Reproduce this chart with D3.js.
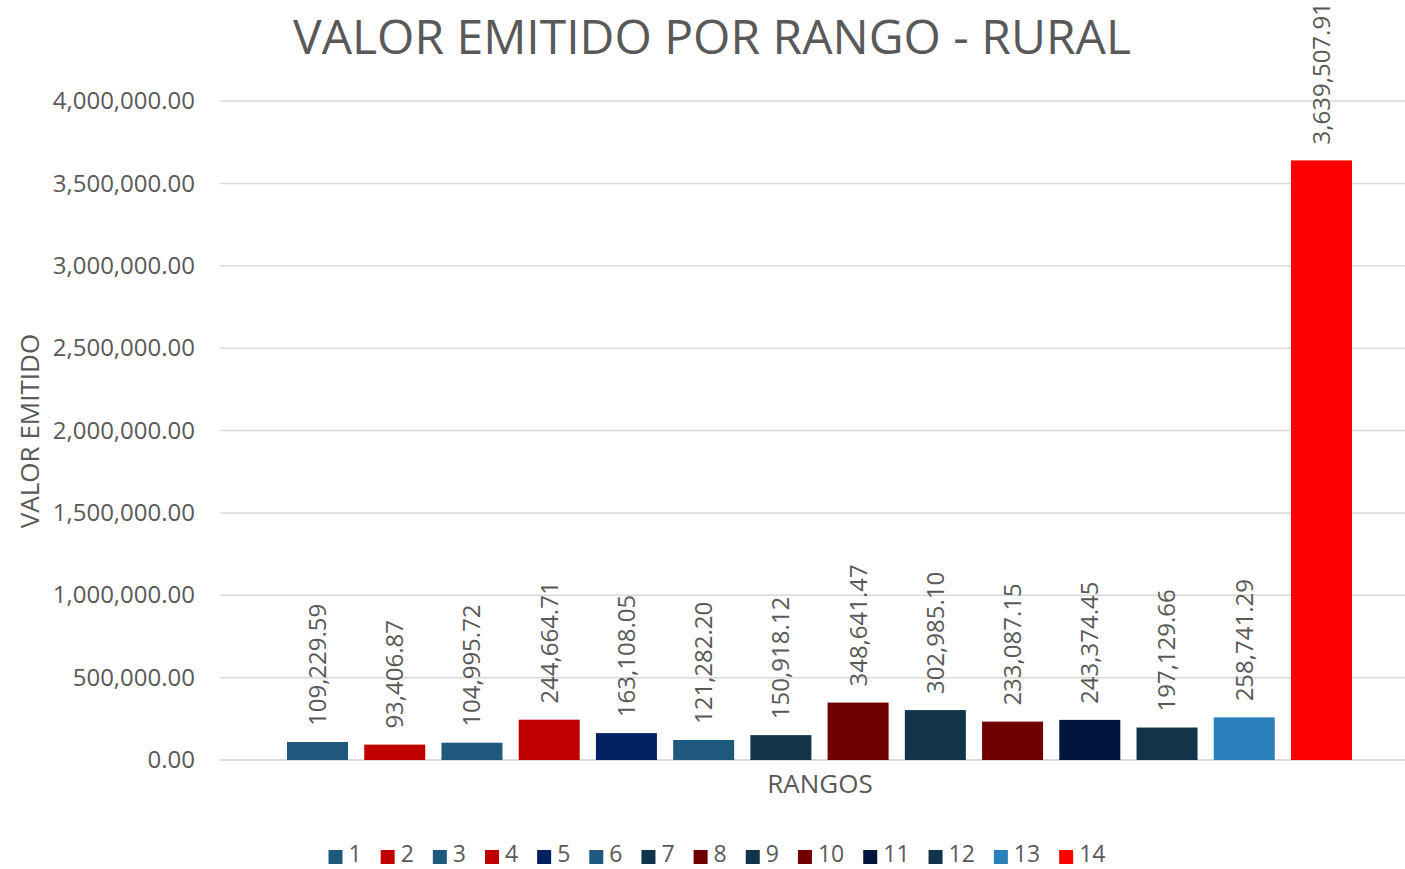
<!DOCTYPE html>
<html>
<head>
<meta charset="utf-8">
<script src="https://cdn.jsdelivr.net/npm/d3@7"></script>
<style>
  body { margin: 0; background: #fff; }
  text { font-family: "Open Sans", sans-serif; fill: #595959; }
</style>
</head>
<body>
<svg id="chart" width="1405" height="869"></svg>
<script>
// data
const rangos = ["1", "2", "3", "4", "5", "6", "7", "8", "9", "10", "11", "12", "13", "14"];
const valores = [109229.59, 93406.87, 104995.72, 244664.71, 163108.05, 121282.20, 150918.12,
  348641.47, 302985.10, 233087.15, 243374.45, 197129.66, 258741.29, 3639507.91];
const colores = ["#1f5a7e", "#c00000", "#1f5a7e", "#c00000", "#002060", "#1f5a7e", "#12344b",
  "#700000", "#12344b", "#700000", "#00163d", "#12344b", "#2980ba", "#ff0000"];
const yTicks = [0, 500000, 1000000, 1500000, 2000000, 2500000, 3000000, 3500000, 4000000];

const svg = d3.select("#chart");
const fmt = d3.format(",.2f");

const plotLeft = 220, plotRight = 1405;

const x = d3.scaleBand()
  .domain(rangos)
  .range([278.9, 1360.1])
  .paddingInner(0.21)
  .paddingOuter(0.105);

const y = d3.scaleLinear()
  .domain([0, 4000000])
  .range([760, 101]);

// gridlines
svg.append("g")
  .selectAll("line")
  .data(yTicks)
  .join("line")
    .attr("x1", plotLeft)
    .attr("x2", plotRight)
    .attr("y1", d => y(d))
    .attr("y2", d => y(d))
    .attr("stroke", "#d9d9d9")
    .attr("stroke-width", d => d === 0 ? 2 : 1.5);

// y axis labels
const yAxis = svg.append("g")
  .attr("transform", `translate(${plotLeft},0)`)
  .call(d3.axisLeft(y).tickValues(yTicks).tickFormat(fmt).tickSize(0).tickPadding(25));
yAxis.select(".domain").remove();
yAxis.selectAll("text")
  .style("font-size", "24px")
  .style("font-family", "Open Sans, sans-serif")
  .attr("fill", "#595959");

// bars
svg.append("g")
  .selectAll("rect")
  .data(valores)
  .join("rect")
    .attr("x", (d, i) => x(rangos[i]))
    .attr("width", x.bandwidth())
    .attr("y", d => y(d))
    .attr("height", d => y(0) - y(d))
    .attr("fill", (d, i) => colores[i]);

// data labels
svg.append("g")
  .selectAll("text")
  .data(valores)
  .join("text")
    .attr("transform", (d, i) =>
      `translate(${x(rangos[i]) + x.bandwidth() / 2},${y(d) - 16}) rotate(-90)`)
    .attr("dy", "0.35em")
    .attr("text-anchor", "start")
    .style("font-size", "24px")
    .text(d => fmt(d));

// title
svg.append("text")
  .attr("x", 712)
  .attr("y", 54)
  .attr("text-anchor", "middle")
  .style("font-size", "48px")
  .text("VALOR EMITIDO POR RANGO - RURAL");

// axis titles
svg.append("text")
  .attr("x", 820)
  .attr("y", 793)
  .attr("text-anchor", "middle")
  .style("font-size", "26px")
  .text("RANGOS");

svg.append("text")
  .attr("transform", "translate(39,431) rotate(-90)")
  .attr("text-anchor", "middle")
  .style("font-size", "26px")
  .text("VALOR EMITIDO");

// legend
const legend = svg.append("g");
let lx = 0;
rangos.forEach((r, i) => {
  const item = legend.append("g").attr("transform", `translate(${lx},0)`);
  item.append("rect")
    .attr("x", 0).attr("y", -7)
    .attr("width", 14).attr("height", 14)
    .attr("fill", colores[i]);
  const t = item.append("text")
    .attr("x", 20).attr("y", -3).attr("dy", "0.35em")
    .style("font-size", "23px")
    .text(r);
  lx += 20 + t.node().getComputedTextLength() + 19;
});
const legendW = lx - 19;
legend.attr("transform", `translate(${717 - legendW / 2},857)`);
</script>
</body>
</html>
